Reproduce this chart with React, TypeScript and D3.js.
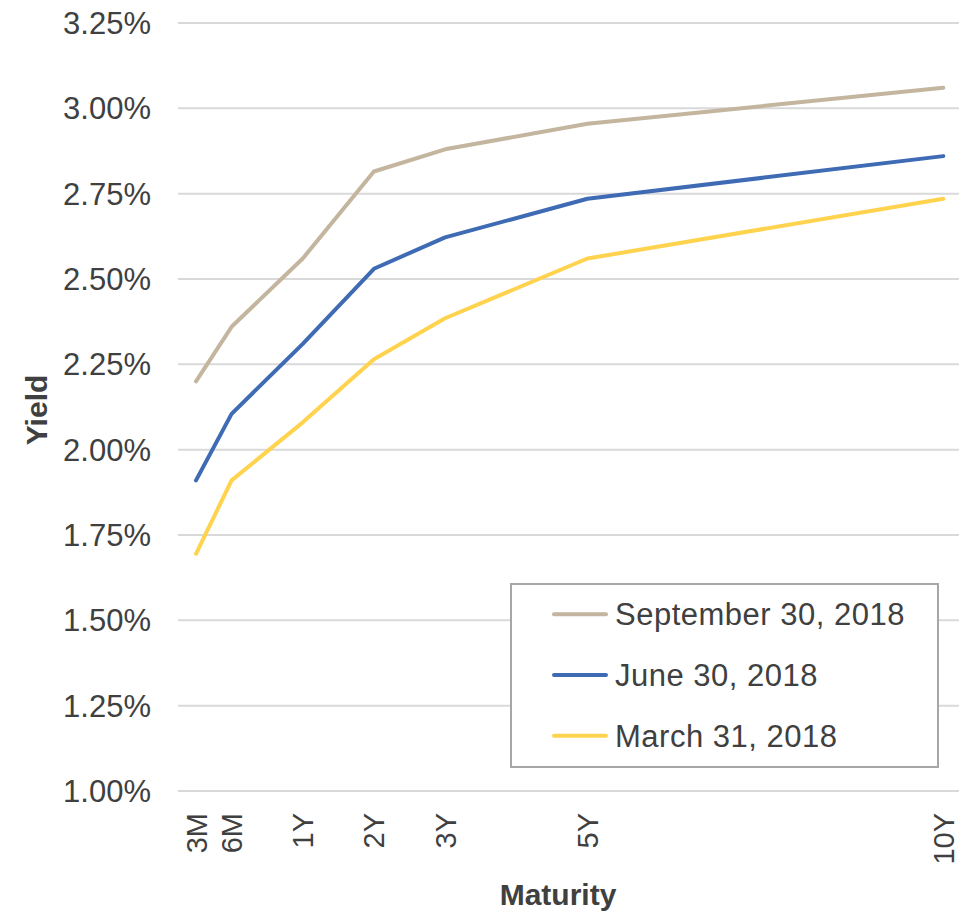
import React from "react";
import * as d3 from "d3";

const tenors = ["3M", "6M", "1Y", "2Y", "3Y", "5Y", "10Y"];
const tenorPos = [-0.5, 0, 1, 2, 3, 5, 10];
const sep2018 = [2.2, 2.36, 2.56, 2.815, 2.88, 2.955, 3.06];
const jun2018 = [1.91, 2.105, 2.31, 2.53, 2.622, 2.735, 2.86];
const mar2018 = [1.695, 1.91, 2.08, 2.265, 2.385, 2.56, 2.735];
const yTicks = [1.0, 1.25, 1.5, 1.75, 2.0, 2.25, 2.5, 2.75, 3.0, 3.25];

const series = [
  { name: "September 30, 2018", values: sep2018, color: "#c4b59e" },
  { name: "June 30, 2018", values: jun2018, color: "#3e6bb4" },
  { name: "March 31, 2018", values: mar2018, color: "#ffd34e" },
];

export default function App() {
  const W = 969, H = 911;
  const x = d3.scaleLinear().domain([-0.5, 10]).range([196, 943.3]);
  const y = d3.scaleLinear().domain([1, 3.25]).range([791, 23]);
  const gridX0 = 178, gridX1 = 959;
  const line = d3
    .line<number>()
    .x((_, i) => x(tenorPos[i]))
    .y((d) => y(d));
  const font = "Liberation Sans, Arial, sans-serif";
  const txt = "#404040";
  return (
    <svg
      width={W}
      height={H}
      style={{ position: "absolute", left: 0, top: 0, background: "#fff" }}
      fontFamily={font}
    >
      {yTicks.map((t) => (
        <g key={t}>
          <line x1={gridX0} x2={gridX1} y1={y(t)} y2={y(t)} stroke="#d9d9d9" strokeWidth={2} />
          <text x={151} y={y(t) + 11} textAnchor="end" fontSize={31} fill={txt}>
            {t.toFixed(2) + "%"}
          </text>
        </g>
      ))}
      {tenors.map((t, i) => (
        <text
          key={t}
          transform={`translate(${x(tenorPos[i]) + 10.5},813) rotate(-90)`}
          textAnchor="end"
          fontSize={29}
          fill={txt}
        >
          {t}
        </text>
      ))}
      {series.map((s) => (
        <path
          key={s.name}
          d={line(s.values) || ""}
          fill="none"
          stroke={s.color}
          strokeWidth={4}
          strokeLinecap="round"
          strokeLinejoin="round"
        />
      ))}
      <text x={558} y={905} textAnchor="middle" fontSize={30} fontWeight="bold" fill={txt}>
        Maturity
      </text>
      <text
        transform={`translate(47,410) rotate(-90)`}
        textAnchor="middle"
        fontSize={30}
        fontWeight="bold"
        fill={txt}
      >
        Yield
      </text>
      <rect x={511} y={584} width={427} height={183} fill="#fff" stroke="#a6a6a6" strokeWidth={2} />
      {series.map((s, i) => {
        const ly = 614.3 + i * 60.7;
        return (
          <g key={s.name}>
            <line x1={554} x2={606} y1={ly} y2={ly} stroke={s.color} strokeWidth={4} strokeLinecap="round" />
            <text x={615} y={ly + 11} fontSize={31} letterSpacing={0.5} fill={txt}>
              {s.name}
            </text>
          </g>
        );
      })}
    </svg>
  );
}
